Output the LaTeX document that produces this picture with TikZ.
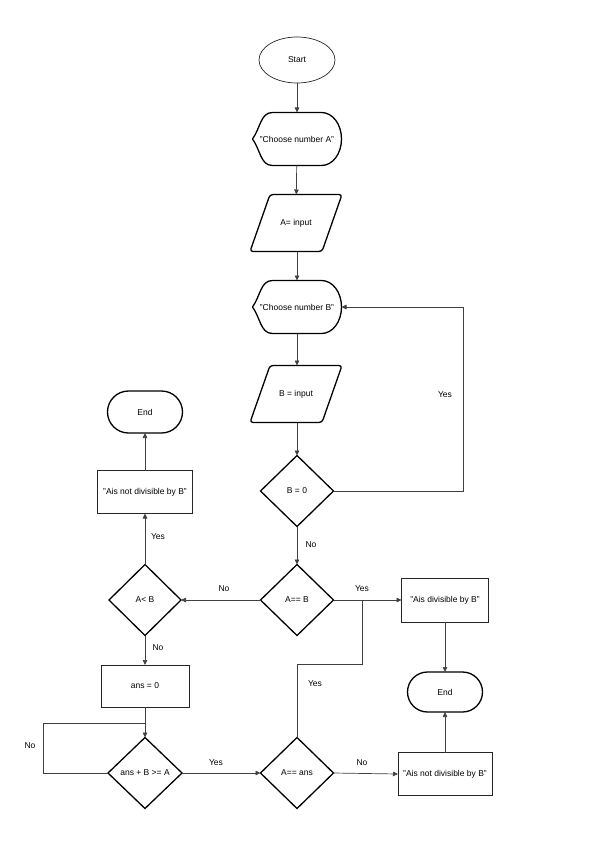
\documentclass[tikz,border=0pt]{standalone}
\usepackage{fontspec}
\setmainfont{Liberation Sans}
\usetikzlibrary{shapes.geometric,shapes.misc,arrows.meta}
\begin{document}
\begin{tikzpicture}[x=1pt,y=-1pt,
  every node/.style={font=\fontsize{8.5}{10}\selectfont, inner sep=0pt, outer sep=0pt},
  shapeline/.style={draw=black, line width=1.3pt},
  thinbox/.style={draw=black!85, line width=0.7pt},
  conn/.style={draw=black!75, line width=0.7pt},
  arr/.style={conn, -{Triangle[length=5pt,width=4.5pt]}},
  ellip/.style={ellipse, thinbox, minimum width=76pt, minimum height=46pt},
  term/.style={rounded rectangle, shapeline, minimum width=75pt, minimum height=42pt},
  procbox/.style={rectangle, thinbox, minimum width=#1, minimum height=43pt},
  decision/.style={diamond, shapeline, minimum width=73pt, minimum height=71pt},
  plain/.style={minimum width=#1}
]
\useasboundingbox (0,0) rectangle (599,848);

% display shapes
\newcommand{\dispshape}[4]{%
  \node[minimum width=89pt, minimum height=53pt] (#1) at (#2,#3) {#4};
  \draw[shapeline, line join=round] (#1.west) .. controls +(8,-11) and +(-12,0) .. ([xshift=20pt]#1.north west)
    -- ([xshift=-20pt]#1.north east) .. controls +(11,0) and +(0,-15) .. (#1.east)
    .. controls +(0,15) and +(11,0) .. ([xshift=-20pt]#1.south east)
    -- ([xshift=20pt]#1.south west) .. controls +(-12,0) and +(8,11) .. (#1.west);
}
% parallelogram
\newcommand{\parashape}[4]{%
  \node[minimum width=92pt, minimum height=57pt] (#1) at (#2,#3) {#4};
  \draw[shapeline, rounded corners=3pt] ([xshift=20pt]#1.north west) -- (#1.north east)
    -- ([xshift=-20pt]#1.south east) -- (#1.south west) -- cycle;
}

\node[ellip] (start) at (297,60) {Start};
\dispshape{dispA}{297}{139}{"Choose number A"}
\parashape{inA}{296}{223}{A= input}
\dispshape{dispB}{297}{307}{"Choose number B"}
\parashape{inB}{296}{394}{B = input}
\node[decision] (d1) at (297,491) {B = 0};
\node[decision] (d2) at (297,600) {A== B};
\node[decision, minimum width=72pt] (d3) at (145,600) {A< B};
\node[procbox=95pt] (nd1) at (145,492) {"Ais not divisible by B"};
\node[term] (end1) at (145,412) {End};
\node[procbox=87pt, minimum height=44pt] (div) at (445,600) {"Ais divisible by B"};
\node[term, minimum height=40pt] (end2) at (445,692) {End};
\node[procbox=94pt] (nd2) at (445,774) {"Ais not divisible by B"};
\node[procbox=88pt, minimum height=42pt] (ans0) at (145,686) {ans = 0};
\node[decision, minimum width=74pt] (d4) at (145,773) {ans + B >= A};
\node[decision] (d5) at (297,773) {A== ans};

% connectors
\draw[arr] (start) -- (dispA);
\draw[arr] (dispA) -- (inA);
\draw[arr] (inA.south -| 297,0) -- (dispB);
\draw[arr] (dispB) -- (inB.north -| 297,0);
\draw[arr] (inB.south -| 297,0) -- (d1);
\coordinate (yesB) at (463,307);
\draw[arr] (d1.east) -| (yesB) -- (dispB.east);
\node (lyesB) at (445,395) {Yes};
\draw[arr] (d1) -- (d2);
\node (lno1) at (311,545) {No};
\draw[arr] (d2.west) -- (d3.east);
\node (lno2) at (224,589) {No};
\draw[arr] (d2.east) -- (div.west);
\node (lyes2) at (362,589) {Yes};
\draw[arr] (d3.north) -- (nd1.south);
\node (lyes3) at (158,537) {Yes};
\draw[arr] (nd1.north) -- (end1.south);
\draw[arr] (d3.south) -- (ans0.north);
\node (lno3) at (158,648) {No};
\draw[arr] (ans0.south) -- (d4.north);
\coordinate (lp) at (43,723);
\coordinate (lj) at (145,723);
\draw[conn] (d4.west) -| (lp) -- (lj);
\node (lno4) at (30,746) {No};
\draw[arr] (d4.east) -- (d5.west);
\node (lyes4) at (216,763) {Yes};
\draw[arr] (d5.east) -- (nd2.west);
\node (lno5) at (362,763) {No};
\coordinate (yj) at (362,664);
\draw[conn] (d5.north) |- (yj) -- (yj |- d2.east);
\node (lyes5) at (315,684) {Yes};
\draw[arr] (div.south) -- (end2.north);
\draw[arr] (nd2.north) -- (end2.south);
\end{tikzpicture}
\end{document}
